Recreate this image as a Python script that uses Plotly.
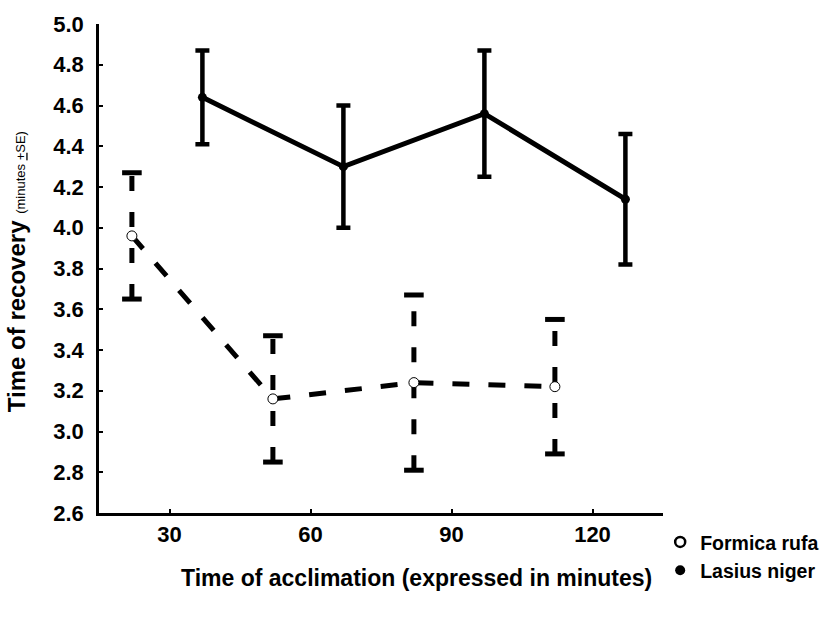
import plotly.graph_objects as go

# Data
formica_x = [22, 52, 82, 112]
formica_y = [3.96, 3.16, 3.24, 3.22]
formica_se = [0.31, 0.31, 0.43, 0.33]

lasius_x = [37, 67, 97, 127]
lasius_y = [4.64, 4.30, 4.56, 4.14]
lasius_se = [0.23, 0.30, 0.31, 0.32]

x_ticks = [30, 60, 90, 120]
y_ticks = [2.6, 2.8, 3.0, 3.2, 3.4, 3.6, 3.8, 4.0, 4.2, 4.4, 4.6, 4.8, 5.0]
y_tick_text = [f"{v:.1f}" for v in y_ticks]

FONT = "Liberation Sans, Arial, sans-serif"

fig = go.Figure()

# Formica dashed error bars (vertical dashed segments)
eb_x, eb_y = [], []
for x, y, s in zip(formica_x, formica_y, formica_se):
    eb_x += [x, x, None]
    eb_y += [y - s, y + s, None]
fig.add_trace(go.Scatter(x=eb_x, y=eb_y, mode="lines",
                         line=dict(color="black", width=5, dash="15px,21px"),
                         showlegend=False, hoverinfo="skip"))
# Formica caps
cap_x, cap_y = [], []
for x, y, s in zip(formica_x, formica_y, formica_se):
    cap_x += [x, x]
    cap_y += [y - s, y + s]
fig.add_trace(go.Scatter(x=cap_x, y=cap_y, mode="markers",
                         marker=dict(symbol="line-ew", size=14,
                                     line=dict(color="black", width=5)),
                         showlegend=False, hoverinfo="skip"))

# Formica main dashed line
fig.add_trace(go.Scatter(x=formica_x, y=formica_y, mode="lines+markers",
                         line=dict(color="black", width=5, dash="17px,19px"),
                         marker=dict(symbol="circle", size=10, color="white",
                                     line=dict(color="black", width=1)),
                         showlegend=False))

# Lasius solid line with error bars
fig.add_trace(go.Scatter(x=lasius_x, y=lasius_y, mode="lines+markers",
                         line=dict(color="black", width=5),
                         marker=dict(symbol="circle", size=9, color="black"),
                         error_y=dict(type="data", array=lasius_se, visible=True,
                                      color="black", thickness=4.5, width=7),
                         showlegend=False))

# Legend entries
fig.add_trace(go.Scatter(x=[None], y=[None], mode="markers", name="Formica rufa",
                         marker=dict(symbol="circle", size=10, color="white",
                                     line=dict(color="black", width=2.5))))
fig.add_trace(go.Scatter(x=[None], y=[None], mode="markers", name="Lasius niger",
                         marker=dict(symbol="circle", size=10, color="black")))

fig.update_layout(
    width=826, height=622,
    margin=dict(l=99, r=163, t=24, b=109, autoexpand=False),
    paper_bgcolor="white", plot_bgcolor="white",
    font=dict(family=FONT, color="black"),
    showlegend=True,
    legend=dict(x=0.995, y=-0.02, xanchor="left", yanchor="top",
                font=dict(family=FONT, size=19.5, color="black", weight="bold"),
                itemwidth=30, tracegroupgap=0, bgcolor="rgba(0,0,0,0)"),
    xaxis=dict(range=[15, 135], tickvals=x_ticks, ticktext=[str(v) for v in x_ticks],
               showgrid=False, zeroline=False, showline=True, linecolor="black",
               linewidth=2.5, ticks="inside", ticklen=4, tickwidth=2,
               tickcolor="black", ticklabelstandoff=0,
               tickfont=dict(family=FONT, size=22, color="black", weight="bold")),
    yaxis=dict(range=[2.6, 5.0], tickvals=y_ticks, ticktext=y_tick_text,
               showgrid=False, zeroline=False, showline=True, linecolor="black",
               linewidth=2.5, ticks="inside", ticklen=4, tickwidth=2,
               tickcolor="black", ticklabelstandoff=8,
               tickfont=dict(family=FONT, size=22, color="black", weight="bold")),
)

# Axis titles
fig.add_annotation(
    xref="paper", yref="paper", x=0.563, y=-0.133, showarrow=False,
    xanchor="center", yanchor="middle",
    text="<b>Time of acclimation (expressed in minutes)</b>",
    font=dict(family=FONT, size=23, color="black"),
)
fig.add_annotation(
    xref="paper", yref="paper", x=-0.145, y=0.493, showarrow=False,
    textangle=-90, xanchor="center", yanchor="middle",
    text="<b>Time of recovery</b> <span style='font-size:13px'>(minutes <u>+</u>SE)</span>",
    font=dict(family=FONT, size=24, color="black"),
)

fig.write_html("out.html")
